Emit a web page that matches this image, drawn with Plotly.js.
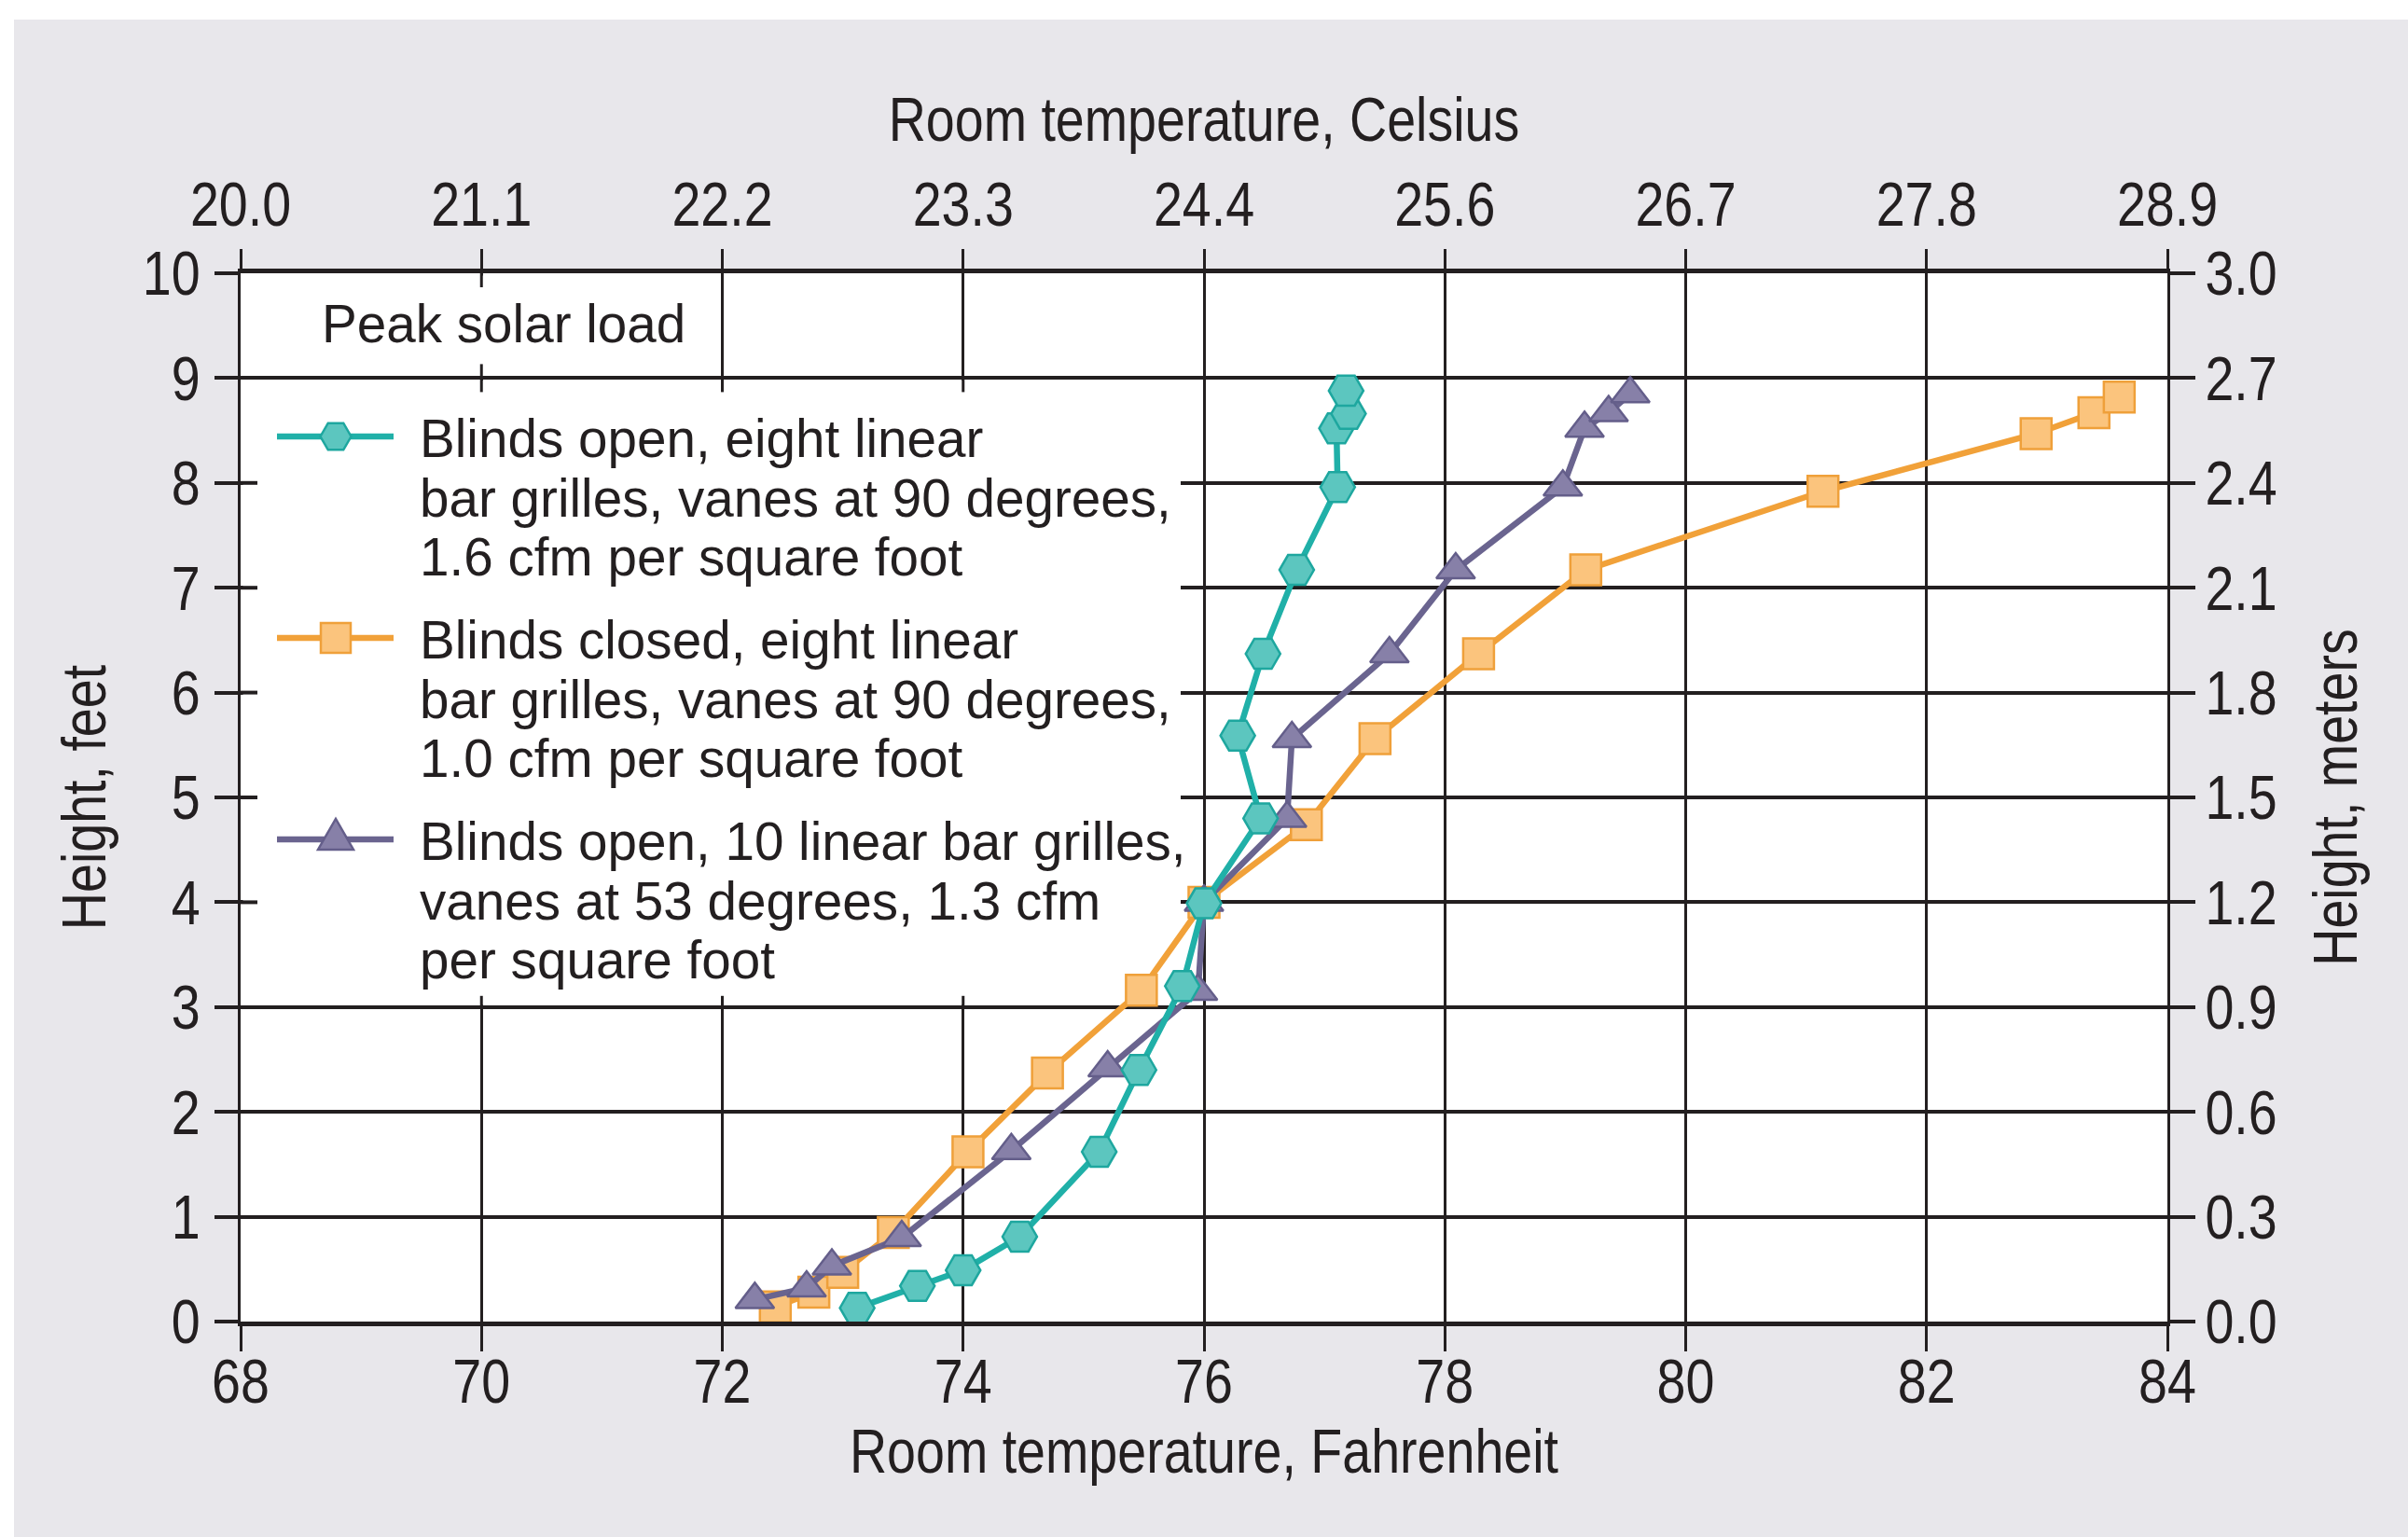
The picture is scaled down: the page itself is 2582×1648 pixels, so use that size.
<!DOCTYPE html>
<html>
<head>
<meta charset="utf-8">
<script src="https://cdn.plot.ly/plotly-3.0.1.min.js"></script>
<style>html,body{margin:0;padding:0;background:#fff;}#chart{width:2582px;height:1648px;}</style>
</head>
<body>
<div id="chart"></div>
<script>
// ---------- data ----------
const openEightTemp   = [73.12, 73.62, 74.00, 74.47, 75.13, 75.46, 75.82, 76.00, 76.47, 76.28, 76.49, 76.77, 77.11, 77.10, 77.20, 77.18];
const openEightHeight = [0.13, 0.34, 0.49, 0.81, 1.62, 2.40, 3.20, 3.99, 4.80, 5.59, 6.37, 7.17, 7.96, 8.52, 8.66, 8.88];

const closedEightTemp   = [72.44, 72.76, 73.00, 73.42, 74.04, 74.70, 75.48, 76.00, 76.85, 77.42, 78.28, 79.17, 81.14, 82.91, 83.39, 83.60];
const closedEightHeight = [0.14, 0.28, 0.47, 0.85, 1.62, 2.37, 3.16, 4.00, 4.74, 5.56, 6.37, 7.17, 7.92, 8.47, 8.67, 8.82];

const openTenTemp   = [72.27, 72.70, 72.91, 73.49, 74.40, 75.20, 75.95, 76.00, 76.69, 76.73, 77.54, 78.09, 78.98, 79.16, 79.36, 79.54];
const openTenHeight = [0.21, 0.32, 0.53, 0.80, 1.63, 2.42, 3.15, 4.00, 4.80, 5.56, 6.37, 7.17, 7.96, 8.52, 8.67, 8.85];

const fahrenheitTicks = [68, 70, 72, 74, 76, 78, 80, 82, 84];
const celsiusLabels   = ['20.0', '21.1', '22.2', '23.3', '24.4', '25.6', '26.7', '27.8', '28.9'];
const feetTicks       = [0, 1, 2, 3, 4, 5, 6, 7, 8, 9, 10];
const meterLabels     = ['0.0', '0.3', '0.6', '0.9', '1.2', '1.5', '1.8', '2.1', '2.4', '2.7', '3.0'];

const seriesNames = [
  'Blinds open, eight linear bar grilles, vanes at 90 degrees, 1.6 cfm per square foot',
  'Blinds closed, eight linear bar grilles, vanes at 90 degrees, 1.0 cfm per square foot',
  'Blinds open, 10 linear bar grilles, vanes at 53 degrees, 1.3 cfm per square foot'
];
const legendLines = [
  ['Blinds open, eight linear', 'bar grilles, vanes at 90 degrees,', '1.6 cfm per square foot'],
  ['Blinds closed, eight linear', 'bar grilles, vanes at 90 degrees,', '1.0 cfm per square foot'],
  ['Blinds open, 10 linear bar grilles,', 'vanes at 53 degrees, 1.3 cfm', 'per square foot']
];
const boxTitle = 'Peak solar load';

// ---------- styling ----------
const FONT = '"Liberation Sans", Arial, sans-serif';
const INK = '#231f20';
const teal = {line: '#20b0a8', fill: '#5cc6bf', edge: '#1ea79f'};
const orange = {line: '#f1a139', fill: '#fbc47d', edge: '#efa03a'};
const purple = {line: '#6a648f', fill: '#8780a8', edge: '#645e8a'};

const ML = 258, MR = 258, MT = 293, MB = 231;
const WIDTH = 2582, HEIGHT = 1648;
const PW = WIDTH - ML - MR, PH = HEIGHT - MT - MB;
const px2x = X => 68 + (X - ML) / PW * 16;
const py2y = Y => (MT + PH - Y) / PH * 10;
const pxDelta = 2.5 / PW * 16, pyDelta = 2.5 / PH * 10;

function trace(xs, ys, name, c, symbol, size, xa, ya) {
  return {
    type: 'scatter', mode: 'lines+markers', x: xs, y: ys, name: name,
    xaxis: xa, yaxis: ya,
    showlegend: false, hoverinfo: 'x+y+name',
    line: {color: c.line, width: 6.5},
    marker: {symbol: symbol, size: size, color: c.fill, line: {color: c.edge, width: 2.5}}
  };
}

const data = [
  trace(closedEightTemp, closedEightHeight, seriesNames[1], orange, 'square', 33, 'x', 'y'),
  trace(openTenTemp, openTenHeight, seriesNames[2], purple, 'triangle-up', 36, 'x', 'y'),
  // identical ranges: drawn on the Celsius / metre overlay axes so those axes are shown
  trace(openEightTemp, openEightHeight, seriesNames[0], teal, 'hexagon2', 37, 'x2', 'y2')
];

// ---------- decorations ----------
const shapes = [];
shapes.push({type: 'rect', xref: 'paper', yref: 'paper', layer: 'below',
  x0: -ML / PW, x1: (WIDTH - ML) / PW, y0: (MT + PH - 21) / PH, y1: (MT + PH) / PH,
  fillcolor: '#ffffff', line: {width: 0}});
shapes.push({type: 'rect', xref: 'paper', yref: 'paper', layer: 'below',
  x0: -ML / PW, x1: (15 - ML) / PW, y0: (MT + PH - HEIGHT) / PH, y1: (MT + PH) / PH,
  fillcolor: '#ffffff', line: {width: 0}});
shapes.push({type: 'rect', xref: 'x', yref: 'y', layer: 'between',
  x0: 68 + pxDelta, x1: 72 - pxDelta, y0: 9 + pyDelta, y1: 10 - pyDelta,
  fillcolor: '#ffffff', line: {width: 0}});
shapes.push({type: 'rect', xref: 'x', yref: 'y', layer: 'between',
  x0: 68 + pxDelta, x1: px2x(1266), y0: 3 + pyDelta, y1: 9 - pyDelta,
  fillcolor: '#ffffff', line: {width: 0}});
function vtick(xv, anchor, a, b) {
  shapes.push({type: 'line', xref: 'x', yref: 'y', layer: 'above', ysizemode: 'pixel', yanchor: anchor,
    x0: xv, x1: xv, y0: a, y1: b, line: {color: INK, width: 3}});
}
vtick(70, 10, 0, -15);
vtick(70, 9, -15, 15);
vtick(72, 9, 0, -15);
vtick(74, 9, 0, -15);
[70, 72, 74].forEach(v => vtick(v, 3, 0, 12));
[4, 5, 6, 7, 8].forEach(v => shapes.push({type: 'line', xref: 'x', yref: 'y', layer: 'above',
  xsizemode: 'pixel', xanchor: 68, x0: 0, x1: 18, y0: v, y1: v, line: {color: INK, width: 4}}));

const keyStyles = [teal, orange, purple];
const keyPaths = [
  'M-16.5,0 L-8.25,14.3 L8.25,14.3 L16.5,0 L8.25,-14.3 L-8.25,-14.3 Z',
  'M-16,-16 L16,-16 L16,16 L-16,16 Z',
  'M-19,-11 L19,-11 L0,22 Z'
];
const keyFirstLineY = [468, 684, 900];
const LINE_GAP = 63.5;
const annotations = [];
keyStyles.forEach((c, i) => {
  const yv = py2y(keyFirstLineY[i]);
  shapes.push({type: 'line', xref: 'x', yref: 'y', layer: 'above',
    x0: px2x(297), x1: px2x(422), y0: yv, y1: yv, line: {color: c.line, width: 6.5}});
  shapes.push({type: 'path', xref: 'x', yref: 'y', layer: 'above',
    xsizemode: 'pixel', ysizemode: 'pixel', xanchor: px2x(360), yanchor: yv,
    path: keyPaths[i], fillcolor: c.fill, line: {color: c.edge, width: 2.5}});
  legendLines[i].forEach((t, j) => {
    annotations.push({xref: 'x', yref: 'y', x: px2x(449), y: py2y(keyFirstLineY[i] + j * LINE_GAP),
      xanchor: 'left', yanchor: 'middle', align: 'left', showarrow: false, borderpad: 0, text: t,
      font: {family: FONT, size: 64, color: INK}});
  });
});
annotations.push({xref: 'x', yref: 'y', x: px2x(344), y: py2y(345), xanchor: 'left', yanchor: 'middle',
  align: 'left', showarrow: false, borderpad: 0, text: boxTitle, font: {family: FONT, size: 64, color: INK}});

const tickFont = {family: FONT, size: 67, color: INK};
const titleFont = {family: FONT, size: 67, color: INK};

const layout = {
  width: WIDTH, height: HEIGHT,
  margin: {l: ML, r: MR, t: MT, b: MB, pad: 0, autoexpand: false},
  paper_bgcolor: '#e8e7eb', plot_bgcolor: '#ffffff',
  showlegend: false,
  font: {family: FONT, color: INK},
  xaxis: {
    range: [68, 84], tickvals: fahrenheitTicks, ticktext: fahrenheitTicks.map(String),
    showgrid: true, gridcolor: INK, gridwidth: 3, zeroline: false,
    showline: true, linecolor: INK, linewidth: 5,
    ticks: 'outside', ticklen: 27, tickwidth: 3, tickcolor: INK,
    tickfont: tickFont, ticklabelstandoff: -25,
    title: {text: 'Room temperature, Fahrenheit', font: titleFont, standoff: 0},
    fixedrange: true
  },
  xaxis2: {
    overlaying: 'x', side: 'top', anchor: 'y2', range: [68, 84],
    tickvals: fahrenheitTicks, ticktext: celsiusLabels,
    showgrid: false, zeroline: false,
    showline: true, linecolor: INK, linewidth: 5,
    ticks: 'outside', ticklen: 21, tickwidth: 3, tickcolor: INK,
    tickfont: tickFont, ticklabelstandoff: -2,
    title: {text: 'Room temperature, Celsius', font: titleFont, standoff: 9},
    fixedrange: true
  },
  yaxis: {
    range: [0, 10], tickvals: feetTicks, ticktext: feetTicks.map(String),
    showgrid: true, gridcolor: INK, gridwidth: 4, zeroline: false,
    showline: true, linecolor: INK, linewidth: 3,
    ticks: 'outside', ticklen: 25, tickwidth: 4, tickcolor: INK,
    tickfont: tickFont, ticklabelstandoff: 2,
    title: {text: 'Height, feet', font: titleFont, standoff: 5},
    fixedrange: true
  },
  yaxis2: {
    overlaying: 'y', side: 'right', anchor: 'x2', range: [0, 10],
    tickvals: feetTicks, ticktext: meterLabels,
    showgrid: false, zeroline: false,
    showline: true, linecolor: INK, linewidth: 3,
    ticks: 'outside', ticklen: 27, tickwidth: 4, tickcolor: INK,
    tickfont: tickFont, ticklabelstandoff: -3,
    title: {text: 'Height, meters', font: titleFont, standoff: 24},
    fixedrange: true
  },
  shapes: shapes,
  annotations: annotations
};

// the reference uses a condensed typeface: narrow every text around its anchor
// (key lines are also set a little tighter vertically, as in the reference)
function condense(gd) {
  gd.querySelectorAll('svg text').forEach(t => {
    const isNote = t.classList.contains('annotation-text');
    const sx = isNote ? 0.885 : 0.83;
    const sy = isNote ? 0.9 : 1;
    const x = parseFloat(t.getAttribute('x')) || 0;
    const y = parseFloat(t.getAttribute('y')) || 0;
    const prev = t.getAttribute('transform') || '';
    t.setAttribute('transform', prev + ' translate(' + x + ',' + y + ') scale(' + sx + ',' + sy + ') translate(' + (-x) + ',' + (-y) + ')');
  });
}

Plotly.newPlot('chart', data, layout, {staticPlot: true, displayModeBar: false}).then(condense);
</script>
</body>
</html>
